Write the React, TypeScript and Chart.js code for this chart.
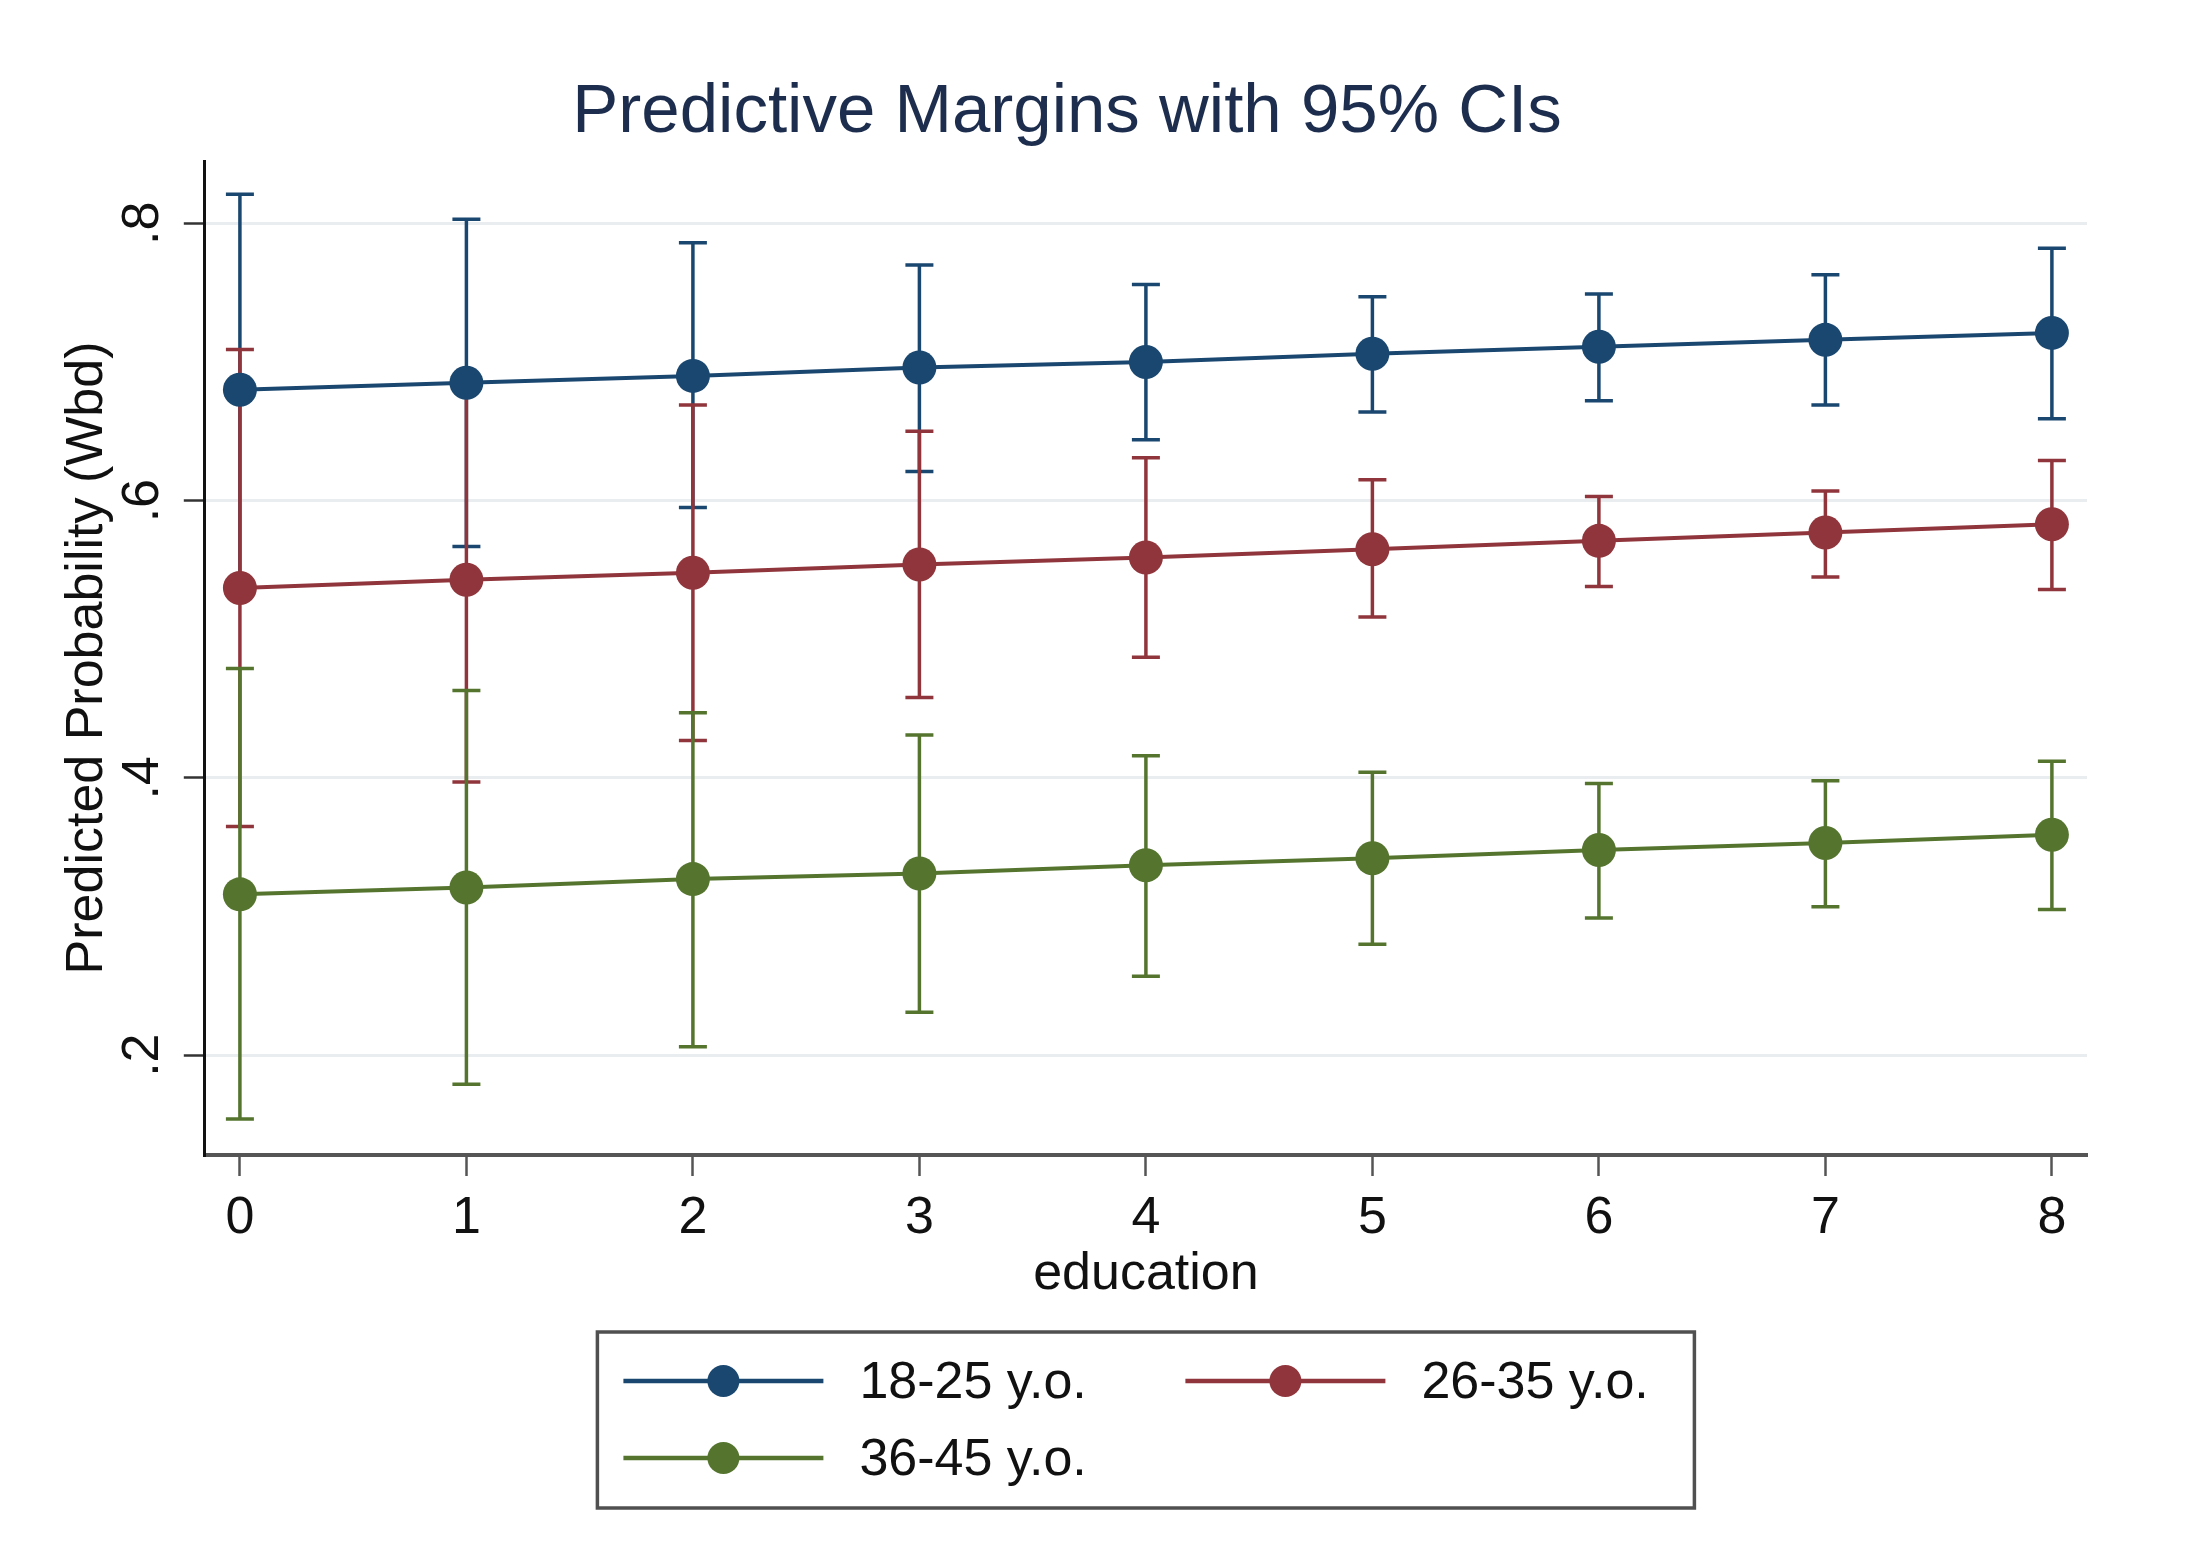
import React, { useEffect, useRef } from 'react';
import { Chart, registerables } from 'chart.js';

Chart.register(...registerables);

const FONT = '"Liberation Sans", Arial, Helvetica, sans-serif';

// education levels on the x axis
const education = [0, 1, 2, 3, 4, 5, 6, 7, 8];
const yTicks = [0.2, 0.4, 0.6, 0.8];
const yTickLabels = ['.2', '.4', '.6', '.8'];

const seriesLabels = ['18-25 y.o.', '26-35 y.o.', '36-45 y.o.'];
const seriesColors = ['#1a476f', '#90353b', '#55752f'];

// predictive margins and 95% CI bounds
const margin18 = [0.68, 0.685, 0.69, 0.696, 0.7, 0.706, 0.711, 0.716, 0.721];
const lower18 = [0.539, 0.567, 0.595, 0.621, 0.644, 0.664, 0.672, 0.669, 0.659];
const upper18 = [0.821, 0.803, 0.786, 0.77, 0.756, 0.747, 0.749, 0.763, 0.782];

const margin26 = [0.537, 0.543, 0.548, 0.554, 0.559, 0.565, 0.571, 0.577, 0.583];
const lower26 = [0.365, 0.397, 0.427, 0.458, 0.487, 0.516, 0.538, 0.545, 0.536];
const upper26 = [0.709, 0.688, 0.669, 0.65, 0.631, 0.615, 0.603, 0.607, 0.629];

const margin36 = [0.316, 0.321, 0.327, 0.331, 0.337, 0.342, 0.348, 0.353, 0.359];
const lower36 = [0.154, 0.179, 0.206, 0.231, 0.257, 0.28, 0.299, 0.307, 0.305];
const upper36 = [0.479, 0.463, 0.447, 0.431, 0.416, 0.404, 0.396, 0.398, 0.412];

const means = [margin18, margin26, margin36];
const lowers = [lower18, lower26, lower36];
const uppers = [upper18, upper26, upper36];

// Stata-like boxed legend, two columns
const boxLegend = {
  id: 'boxLegend',
  afterDraw(chart: any) {
    const { ctx, chartArea } = chart;
    const xScale = chart.scales.x;
    const w = 1097;
    const h = 176;
    const left = (chartArea.left + chartArea.right) / 2 - w / 2;
    const top = xScale.bottom + 44;
    ctx.save();
    ctx.strokeStyle = '#505050';
    ctx.lineWidth = 3.5;
    ctx.strokeRect(left, top, w, h);
    const slots = [[26, 49], [588, 49], [26, 126]];
    seriesLabels.forEach((label, i) => {
      const [dx, dy] = slots[i];
      const x0 = left + dx;
      const y = top + dy;
      ctx.strokeStyle = seriesColors[i];
      ctx.lineWidth = 4.5;
      ctx.beginPath();
      ctx.moveTo(x0, y);
      ctx.lineTo(x0 + 200, y);
      ctx.stroke();
      ctx.fillStyle = seriesColors[i];
      ctx.beginPath();
      ctx.arc(x0 + 100, y, 16, 0, Math.PI * 2);
      ctx.fill();
      ctx.fillStyle = '#111';
      ctx.font = `52px ${FONT}`;
      ctx.textAlign = 'left';
      ctx.textBaseline = 'middle';
      ctx.fillText(label, x0 + 236, y + 3);
    });
    ctx.restore();
  },
};

const MarginsChart = () => {
  const chartRef = useRef<HTMLCanvasElement>(null);

  useEffect(() => {
    document.body.style.margin = '0';
    if (!chartRef.current) return;

    const lineSets = means.map((m, i) => ({
      label: seriesLabels[i],
      data: education.map((x, j) => ({ x, y: m[j] })),
      borderColor: seriesColors[i],
      backgroundColor: seriesColors[i],
      borderWidth: 4,
      pointRadius: 17,
      pointBackgroundColor: seriesColors[i],
      pointBorderWidth: 0,
    }));

    const ciSets = means.map((_, i) => ({
      label: seriesLabels[i] + ' CI',
      data: education.flatMap((x, j) => [
        { x, y: lowers[i][j] },
        { x, y: uppers[i][j] },
        { x, y: null },
      ]),
      borderColor: seriesColors[i],
      backgroundColor: seriesColors[i],
      borderWidth: 3.5,
      pointStyle: 'line',
      pointRadius: 14,
      pointBorderWidth: 3.5,
      pointBorderColor: seriesColors[i],
      spanGaps: false,
    }));

    const myChart = new Chart(chartRef.current, {
      type: 'line',
      data: {
        datasets: [...lineSets.reverse(), ...ciSets.reverse()] as any,
      },
      options: {
        animation: false,
        responsive: true,
        maintainAspectRatio: false,
        events: [],
        layout: { padding: { left: 47, right: 104, top: 0, bottom: 279 } },
        plugins: {
          legend: { display: false },
          tooltip: { enabled: false },
          title: {
            display: true,
            text: 'Predictive Margins with 95% CIs',
            color: '#1c2d4d',
            font: { family: FONT, size: 69, weight: 'normal', lineHeight: 1 },
            padding: { top: 78.5, bottom: 13.5 },
          },
        },
        scales: {
          x: {
            type: 'linear',
            min: -0.155,
            max: 8.155,
            afterBuildTicks: (axis: any) => {
              axis.ticks = education.map((v) => ({ value: v }));
            },
            ticks: {
              font: { family: FONT, size: 52, lineHeight: 1 },
              color: '#111',
              padding: 17,
              autoSkip: false,
              maxRotation: 0,
              callback: (v: any) => String(v),
            },
            grid: {
              drawOnChartArea: false,
              drawTicks: true,
              tickLength: 21,
              tickColor: '#555',
              tickWidth: 2.5,
            },
            border: { color: '#555', width: 4 },
            title: {
              display: true,
              text: 'education',
              color: '#111',
              font: { family: FONT, size: 52, lineHeight: 0.5 },
              padding: { top: 0, bottom: 0 },
            },
          },
          y: {
            type: 'linear',
            min: 0.128,
            max: 0.845,
            afterBuildTicks: (axis: any) => {
              axis.ticks = yTicks.map((v) => ({ value: v }));
            },
            ticks: {
              font: { family: FONT, size: 52, lineHeight: 0.65 },
              color: '#111',
              padding: 18,
              minRotation: 90,
              maxRotation: 90,
              crossAlign: 'center',
              callback: (_v: any, i: number) => yTickLabels[i],
            },
            grid: {
              color: '#e9edf0',
              lineWidth: 3,
              tickColor: '#333',
              tickLength: 21,
              tickWidth: 2.5,
            },
            border: { color: '#111', width: 3 },
            title: {
              display: true,
              text: 'Predicted Probability (Wbd)',
              color: '#111',
              font: { family: FONT, size: 52, lineHeight: 1 },
              padding: { top: 15, bottom: 0 },
            },
          },
        },
      } as any,
      plugins: [boxLegend],
    });

    return () => {
      myChart.destroy();
    };
  }, []);

  return (
    <div style={{ width: 2191, height: 1567, position: 'relative', overflow: 'hidden', background: '#fff' }}>
      <canvas ref={chartRef} />
    </div>
  );
};

export default function App() {
  return <MarginsChart />;
}
